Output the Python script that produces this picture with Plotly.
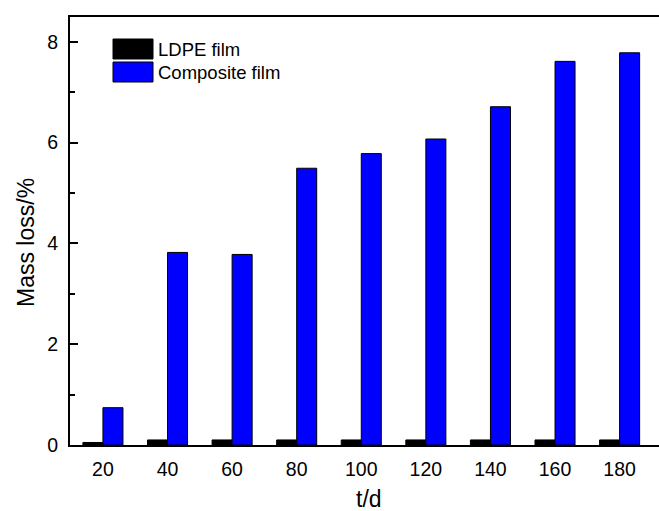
import plotly.graph_objects as go

# Degradation time (days) and mass loss (%) for each film
days = [20, 40, 60, 80, 100, 120, 140, 160, 180]
ldpe_loss = [0.05, 0.1, 0.1, 0.1, 0.1, 0.1, 0.1, 0.1, 0.1]
composite_loss = [0.74, 3.82, 3.78, 5.49, 5.78, 6.07, 6.71, 7.61, 7.78]
series_names = ["LDPE film", "Composite film"]
series_colors = ["#000000", "#0000FF"]

W, H = 659, 511
ML, MR, MT, MB = 70, 0, 17, 66
FONT = "Liberation Sans, Arial, sans-serif"

bar_w = 6.2

fig = go.Figure()
fig.add_trace(go.Bar(
    x=days, y=ldpe_loss, name=series_names[0], width=bar_w, offset=-bar_w,
    marker=dict(color=series_colors[0], line=dict(color="black", width=1)),
    showlegend=False,
))
fig.add_trace(go.Bar(
    x=days, y=composite_loss, name=series_names[1], width=bar_w, offset=0,
    marker=dict(color=series_colors[1], line=dict(color="black", width=1)),
    showlegend=False,
))

# Plot-area coordinate helpers (pixel -> paper fraction)
pw, ph = W - ML - MR, H - MT - MB


def px(x):
    return (x - ML) / pw


def py(y):
    return 1 - (y - MT) / ph


shapes = []
annotations = []
# Legend with large swatches
for i, (name, col) in enumerate(zip(series_names, series_colors)):
    top = 39 + i * 23
    shapes.append(dict(type="rect", xref="paper", yref="paper",
                       x0=px(113), x1=px(153), y0=py(top + 20), y1=py(top),
                       fillcolor=col, line=dict(color="black", width=1)))
    annotations.append(dict(xref="paper", yref="paper", x=px(156), y=py(top + 10),
                            text=name, showarrow=False, xanchor="left",
                            yanchor="middle",
                            font=dict(family=FONT, size=18.5, color="black")))

# Axis titles
annotations.append(dict(xref="paper", yref="paper", x=px(369), y=py(499),
                        text="t/d", showarrow=False, xanchor="center",
                        yanchor="middle",
                        font=dict(family=FONT, size=23, color="black")))
annotations.append(dict(xref="paper", yref="paper", x=px(26), y=py(243),
                        text="Mass loss/%", showarrow=False, textangle=-90,
                        xanchor="center", yanchor="middle",
                        font=dict(family=FONT, size=23, color="black")))

fig.update_layout(
    width=W, height=H,
    margin=dict(l=ML, r=MR, t=MT, b=MB),
    paper_bgcolor="white", plot_bgcolor="white",
    barmode="overlay",
    shapes=shapes, annotations=annotations,
    font=dict(family=FONT, color="black"),
    xaxis=dict(
        range=[9.8, 192.2], tickvals=days, ticktext=[str(d) for d in days],
        ticks="", showgrid=False, zeroline=False,
        showline=True, linecolor="black", linewidth=2, mirror=False,
        tickfont=dict(size=19.5), ticklabelstandoff=6,
    ),
    xaxis2=dict(overlaying="x", side="top", showline=True, linecolor="black",
                linewidth=2, showticklabels=False, ticks="", showgrid=False,
                range=[9.8, 192.2]),
    yaxis=dict(
        range=[0, 8.49], tickvals=[0, 2, 4, 6, 8], ticks="inside", ticklen=8,
        tickwidth=2, tickcolor="black", showgrid=False, zeroline=False,
        showline=True, linecolor="black", linewidth=2,
        minor=dict(dtick=1, ticks="inside", ticklen=5, tickwidth=2,
                   tickcolor="black"),
        tickfont=dict(size=19.5), ticklabelstandoff=6,
    ),
)
# An empty trace on the top axis so the upper frame line is drawn
fig.add_trace(go.Scatter(x=[], y=[], xaxis="x2", showlegend=False))

fig.write_html("out.html")
